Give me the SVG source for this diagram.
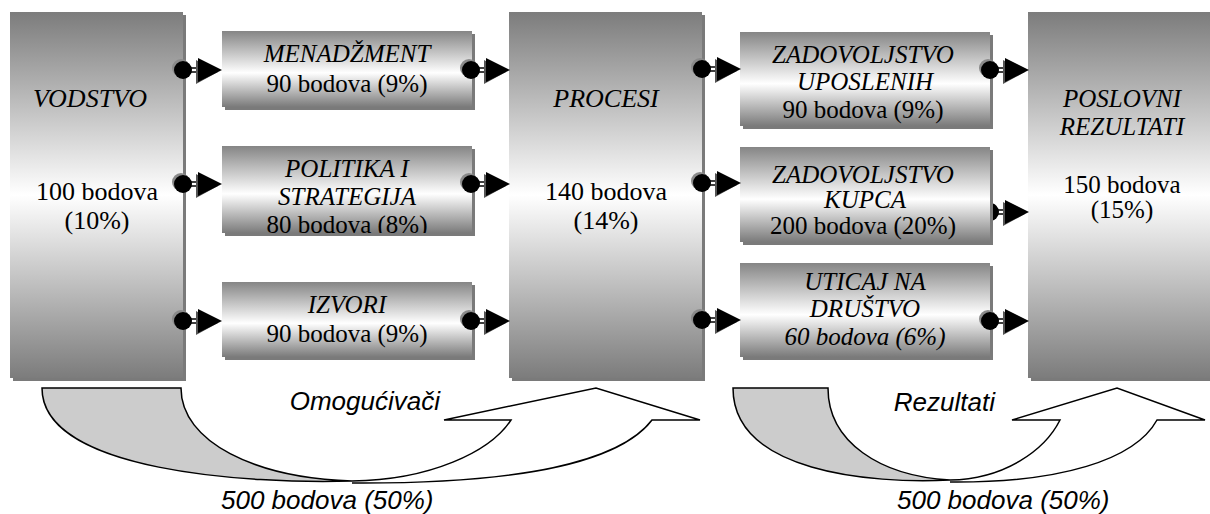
<svg xmlns="http://www.w3.org/2000/svg" xmlns:xlink="http://www.w3.org/1999/xlink" width="1210" height="514" viewBox="0 0 1210 514">
<style>
.t{font-family:"Liberation Serif","Times New Roman",serif;font-size:25px;fill:#000;text-anchor:middle}
.tb{font-family:"Liberation Serif","Times New Roman",serif;font-size:26px;fill:#000;text-anchor:middle}
.i{font-style:italic}
.s{font-family:"Liberation Sans",Arial,sans-serif;font-style:italic;font-size:26px;fill:#000}
.sh{fill:#7a7a7a}
.big{fill:url(#gBig)}
.sm{fill:url(#gSm)}
.arr{stroke:#000;stroke-width:1.5;stroke-linejoin:miter}
</style>
<defs>
<linearGradient id="gBig" x1="0" y1="0" x2="0" y2="1">
<stop offset="0" stop-color="#7c7c7c"/>
<stop offset="0.5" stop-color="#ffffff"/>
<stop offset="1" stop-color="#7c7c7c"/>
</linearGradient>
<linearGradient id="gSm" x1="0" y1="0" x2="0" y2="1">
<stop offset="0" stop-color="#858585"/>
<stop offset="0.55" stop-color="#ffffff"/>
<stop offset="1" stop-color="#7a7a7a"/>
</linearGradient>
<g id="conn">
<circle cx="-2" cy="-2" r="9" fill="#8a8a8a"/>
<circle cx="0" cy="0" r="9" fill="#000"/>
<path d="M8,-2H19M8,2H19" stroke="#000" stroke-width="1.3"/>
<path d="M13,-10L35,2L13,14Z" fill="#555"/>
<path d="M15,-12L39,0L15,12Z" fill="#000"/>
</g>
<clipPath id="cU"><rect x="740" y="32" width="250" height="94"/></clipPath>
<clipPath id="cK"><rect x="740" y="147" width="250" height="95"/></clipPath>
<clipPath id="cD"><rect x="740" y="263" width="250" height="94"/></clipPath>
<clipPath id="cP"><rect x="222" y="146" width="250" height="87"/></clipPath>
<clipPath id="cHalf"><rect x="993" y="195" width="40" height="35"/></clipPath>
</defs>

<g id="vodstvo">
<rect class="sh" x="13" y="15" width="173" height="366"/>
<rect class="big" x="10" y="12" width="173" height="366"/>
<text class="tb i" x="90" y="107">VODSTVO</text>
<text class="tb" x="97" y="200">100 bodova</text>
<text class="tb" x="97" y="229">(10%)</text>
</g>

<g id="menadzment">
<rect class="sh" x="225" y="34" width="250" height="76"/>
<rect class="sm" x="222" y="31" width="250" height="76"/>
<text class="t i" x="347" y="62">MENADŽMENT</text>
<text class="t" x="347" y="92">90 bodova (9%)</text>
</g>

<g id="politika">
<rect class="sh" x="225" y="149" width="250" height="87"/>
<rect class="sm" x="222" y="146" width="250" height="87"/>
<g clip-path="url(#cP)">
<text class="t i" x="347" y="177">POLITIKA I</text>
<text class="t i" x="347" y="205">STRATEGIJA</text>
<text class="t" x="347" y="233">80 bodova (8%)</text>
</g>
</g>

<g id="izvori">
<rect class="sh" x="225" y="285" width="250" height="75"/>
<rect class="sm" x="222" y="282" width="250" height="75"/>
<text class="t i" x="347" y="313">IZVORI</text>
<text class="t" x="347" y="342">90 bodova (9%)</text>
</g>

<g id="procesi">
<rect class="sh" x="512" y="15" width="193" height="366"/>
<rect class="big" x="509" y="12" width="193" height="366"/>
<text class="tb i" x="606" y="107">PROCESI</text>
<text class="tb" x="606" y="200">140 bodova</text>
<text class="tb" x="606" y="229">(14%)</text>
</g>

<g id="uposleni">
<rect class="sh" x="743" y="35" width="250" height="94"/>
<rect class="sm" x="740" y="32" width="250" height="94"/>
<g clip-path="url(#cU)">
<text class="t i" x="863" y="63">ZADOVOLJSTVO</text>
<text class="t i" x="865" y="90">UPOSLENIH</text>
<text class="t" x="863" y="118">90 bodova (9%)</text>
</g>
</g>

<g id="kupci">
<rect class="sh" x="743" y="150" width="250" height="95"/>
<rect class="sm" x="740" y="147" width="250" height="95"/>
<g clip-path="url(#cK)">
<text class="t i" x="863" y="183">ZADOVOLJSTVO</text>
<text class="t i" x="865" y="208">KUPCA</text>
<text class="t" x="863" y="234">200 bodova (20%)</text>
</g>
</g>

<g id="drustvo">
<rect class="sh" x="743" y="266" width="250" height="94"/>
<rect class="sm" x="740" y="263" width="250" height="94"/>
<g clip-path="url(#cD)">
<text class="t i" x="865" y="290">UTICAJ NA</text>
<text class="t i" x="865" y="317">DRUŠTVO</text>
<text class="t i" x="865" y="345">60 bodova (6%)</text>
</g>
</g>

<g id="poslovni">
<rect class="sh" x="1031" y="15" width="182" height="366"/>
<rect class="big" x="1028" y="12" width="182" height="366"/>
<text class="t i" x="1122" y="107">POSLOVNI</text>
<text class="t i" x="1122" y="135">REZULTATI</text>
<text class="t" x="1122" y="193">150 bodova</text>
<text class="t" x="1122" y="218">(15%)</text>
</g>

<g id="connectors">
<use xlink:href="#conn" x="183" y="70"/>
<use xlink:href="#conn" x="183" y="184"/>
<use xlink:href="#conn" x="183" y="321"/>
<use xlink:href="#conn" x="471" y="70"/>
<use xlink:href="#conn" x="471" y="184"/>
<use xlink:href="#conn" x="471" y="321"/>
<use xlink:href="#conn" x="702" y="69"/>
<use xlink:href="#conn" x="702" y="183"/>
<use xlink:href="#conn" x="702" y="320"/>
<use xlink:href="#conn" x="990" y="70"/>
<g>
<circle cx="990" cy="212" r="9" fill="#000" clip-path="url(#cHalf)"/>
<path d="M998,210H1009M998,214H1009" stroke="#000" stroke-width="1.3"/>
<path d="M1003,202L1025,214L1003,226Z" fill="#555"/>
<path d="M1005,200L1029,212L1005,224Z" fill="#000"/>
</g>
<use xlink:href="#conn" x="990" y="321"/>
</g>

<g id="omogucivaci">
<path class="arr" fill="#cccccc" d="M42,388H181C181,442 255,478 352,481C250,484 42,472 42,388Z"/>
<path class="arr" fill="#ffffff" d="M352,481C430,480 490,452 511,420H444L596,388L700,420H652C620,462 520,484 352,483"/>
<text class="s" x="440" y="410" text-anchor="end">Omogućivači</text>
<text class="s" x="221" y="509">500 bodova (50%)</text>
</g>

<g id="rezultati">
<path class="arr" fill="#cccccc" d="M733,388H828C828,442 880,476 950,480C870,484 733,472 733,388Z"/>
<path class="arr" fill="#ffffff" d="M950,480C1005,479 1045,450 1060,420H1012L1117,388L1205,420H1157C1135,460 1060,483 950,482"/>
<text class="s" x="995" y="411" text-anchor="end">Rezultati</text>
<text class="s" x="897" y="509">500 bodova (50%)</text>
</g>
</svg>
